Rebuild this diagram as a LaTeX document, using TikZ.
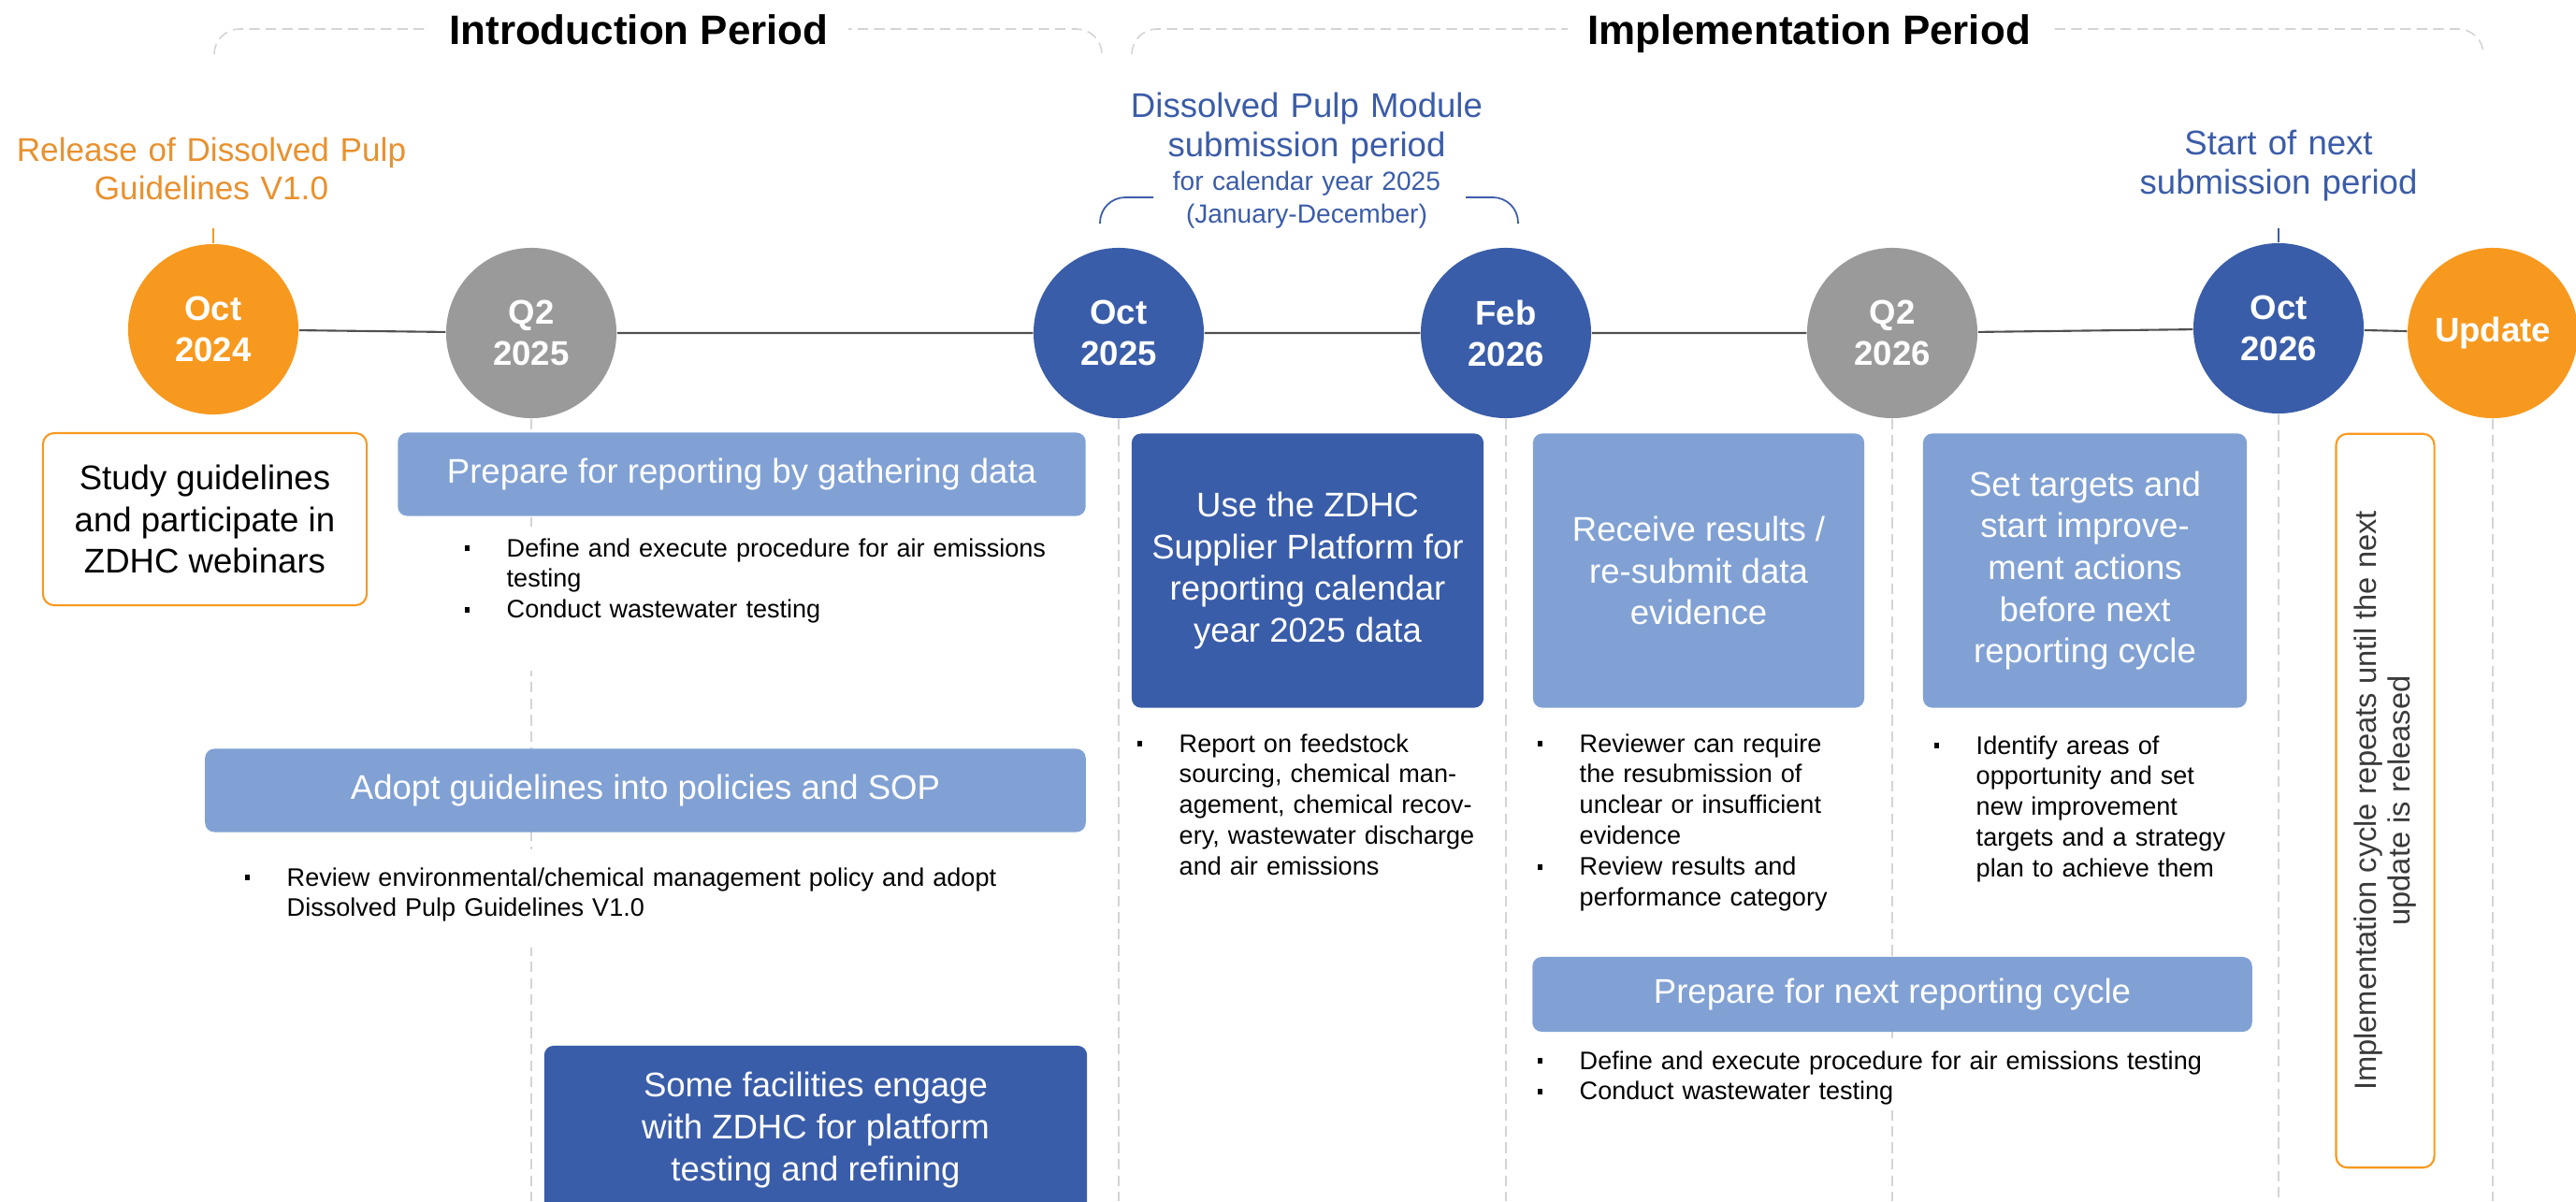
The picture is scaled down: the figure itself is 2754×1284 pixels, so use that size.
\documentclass[tikz,border=0pt]{standalone}
\usepackage{fontspec}
\setmainfont{Liberation Sans}
\usepackage{tikz}
\usepackage{color}

\definecolor{orng}{HTML}{F7991F}
\definecolor{orngtext}{HTML}{E8912F}
\definecolor{grey}{HTML}{9A9A9A}
\definecolor{navy}{HTML}{3A5DA9}
\definecolor{sky}{HTML}{81A1D4}
\definecolor{bluetext}{HTML}{3B5CA8}
\definecolor{dashgray}{HTML}{D4D4D4}
\definecolor{linegray}{HTML}{505050}
\definecolor{darktext}{HTML}{3A3A3A}

\newcommand{\blt}{\leavevmode\llap{\rule[1.6pt]{1.5pt}{1.7pt}\hspace{11.3pt}}}

\begin{document}
\begin{tikzpicture}
    [ x=0.01cm, y=-0.01cm
    , event/.style={circle, minimum size=1.82cm, inner sep=0pt, text=white, align=center, font=\fontsize{10.4}{12.5}\selectfont\bfseries}
    , card/.style={rounded corners=0.1cm, inner sep=0pt, text=white, align=center, font=\fontsize{10.4}{12.7}\selectfont}
    , notes/.style={anchor=base west, align=left, inner xsep=0pt, inner ysep=4pt, font=\fontsize{7.7}{9.35}\selectfont}
    , guide/.style={draw=dashgray, line width=0.45pt, dash pattern=on 3.2pt off 1.8pt}
    , period/.style={anchor=base, fill=white, inner xsep=6pt, font=\fontsize{12.5}{15}\selectfont\bfseries}
    , remark/.style={anchor=base, align=center, inner sep=0pt, text width=5cm}
    ]
\useasboundingbox (0,0) rectangle (2754,1284);
\coordinate (bot) at (0,1284);

% periods
\draw[guide, rounded corners=0.27cm] (229,58) |- (1178,31) -- (1178,58);
\draw[guide, rounded corners=0.27cm] (1210,58) |- (2655,31) -- (2655,58);
\node[period] (intro) at (683,47) {Introduction Period};
\node[period] (impl) at (1934,47) {Implementation Period};

% timeline
\node[event, fill=orng] (oct24) at (228,352) {Oct\\2024};
\node[event, fill=grey] (q225) at (568,356) {Q2\\2025};
\node[event, fill=navy] (oct25) at (1196,356) {Oct\\2025};
\node[event, fill=navy] (feb26) at (1610,356) {Feb\\2026};
\node[event, fill=grey] (q226) at (2023,356) {Q2\\2026};
\node[event, fill=navy] (oct26) at (2436,351) {Oct\\2026};
\node[event, fill=orng] (upd) at (2665,356) {Update};
\draw[linegray, line width=0.6pt] (oct24) -- (q225) -- (oct25) -- (feb26) -- (q226) -- (oct26) -- (upd);
\foreach \n in {q225,oct25,feb26,q226,oct26,upd}
    \draw[guide] (\n.south) -- (\n.south |- bot);

% remarks above
\node[remark, text=orngtext, font=\fontsize{10}{11.7}\selectfont] (release) at (226,172) {Release of Dissolved Pulp\\Guidelines V1.0};
\node[remark, text=bluetext, font=\fontsize{10.4}{12}\selectfont] (module) at (1397,125) {Dissolved Pulp Module\\submission period};
\node[remark, text=bluetext, font=\fontsize{8}{10}\selectfont] (modyear) at (1397,203) {for calendar year 2025\\(January-December)};
\node[remark, text=bluetext, font=\fontsize{10.4}{12}\selectfont] (nextsub) at (2436,165) {Start of next\\submission period};
\draw[orng, line width=0.6pt, shorten <=0.3cm] (oct24.north |- release.south) -- (oct24.north);
\draw[bluetext, line width=0.6pt, shorten <=0.28cm] (oct26.north |- nextsub.south) -- (oct26.north);
\draw[bluetext, line width=0.5pt, rounded corners=0.27cm] (1176,239) |- (1233,211);
\draw[bluetext, line width=0.5pt, rounded corners=0.27cm] (1567,211) -| (1623,239);

% cards
\node[card, draw=orng, line width=0.6pt, rounded corners=0.12cm, text=black, minimum width=3.46cm, minimum height=1.84cm] (study) at (219,555) {Study guidelines\\and participate in\\ZDHC webinars};
\node[card, fill=sky, minimum width=7.35cm, minimum height=0.89cm] (gather) at (793,507) {Prepare for reporting by gathering data};
\node[card, fill=sky, minimum width=9.41cm, minimum height=0.89cm] (adopt) at (690,845) {Adopt guidelines into policies and SOP};
\node[card, fill=navy, minimum width=5.8cm, minimum height=1.8cm] (engage) at (872,1208) {Some facilities engage\\with ZDHC for platform\\testing and refining};
\node[card, fill=navy, minimum width=3.76cm, minimum height=2.93cm] (platform) at (1398,610) {Use the ZDHC\\Supplier Platform for\\reporting calendar\\year 2025 data};
\node[card, fill=sky, minimum width=3.54cm, minimum height=2.93cm] (receive) at (1816,610) {Receive results /\\re-submit data\\evidence};
\node[card, fill=sky, minimum width=3.46cm, minimum height=2.93cm] (targets) at (2229,610) {Set targets and\\start improve-\\ment actions\\before next\\reporting cycle};
\node[card, fill=sky, minimum width=7.69cm, minimum height=0.8cm] (nextcycle) at (2023,1063) {Prepare for next reporting cycle};
\node[card, draw=orng, line width=0.6pt, rounded corners=0.12cm, text=darktext, rotate=90, minimum width=7.84cm, minimum height=1.05cm, font=\fontsize{9.3}{10.5}\selectfont] (repeats) at (2550,856) {Implementation cycle repeats until the next\\update is released};

% bullet notes
\node[notes, fill=white, text width=5.9cm, text height=5.1pt, text depth=30.7pt] (gathernotes) at (541,595) {\blt Define and execute procedure for air emissions\\testing\\\blt Conduct wastewater testing};
\node[notes, fill=white, text width=7.9cm, text height=7.1pt, text depth=14.8pt] (adoptnotes) at (306,947) {\blt Review environmental/chemical management policy and adopt\\Dissolved Pulp Guidelines V1.0};
\node[notes, text width=3.3cm] (platformnotes) at (1260,804) {\blt Report on feedstock\\sourcing, chemical man-\\agement, chemical recov-\\ery, wastewater discharge\\and air emissions};
\node[notes, text width=3.2cm] (receivenotes) at (1688,804) {\blt Reviewer can require\\the resubmission of\\unclear or insufficient\\evidence\\\blt Review results and\\performance category};
\node[notes, text width=3.0cm] (targetsnotes) at (2112,806) {\blt Identify areas of\\opportunity and set\\new improvement\\targets and a strategy\\plan to achieve them};
\node[notes, fill=white, text width=6.8cm, text height=5.4pt, text depth=8.5pt] (nextnotes) at (1688,1143) {\blt Define and execute procedure for air emissions testing\\\blt Conduct wastewater testing};

\end{tikzpicture}
\end{document}
